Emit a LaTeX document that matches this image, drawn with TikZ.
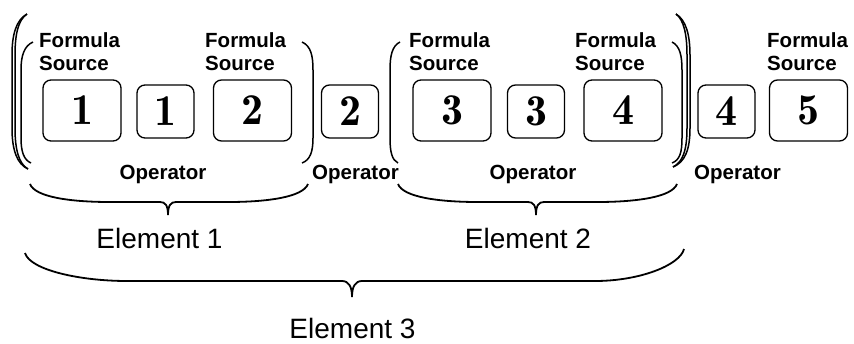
\documentclass[tikz,border=0pt]{standalone}
\usepackage{fontspec}
\newfontfamily\labfont{Liberation Sans}
\begin{document}
\begin{tikzpicture}[x=1pt,y=-1pt,
  box/.style={draw, line width=1.3pt, rounded corners=8pt, inner sep=0pt,
    font=\fontfamily{lmr}\fontseries{b}\fontsize{44}{44}\selectfont},
  bigbox/.style={box, minimum width=78pt, minimum height=61pt},
  smallbox/.style={box, minimum width=57pt, minimum height=53pt},
  fs/.style={font=\labfont\bfseries\fontsize{20.5}{23.5}\selectfont, align=left, anchor=north west, inner sep=0pt},
  op/.style={font=\labfont\bfseries\fontsize{20.5}{24}\selectfont, anchor=base, inner sep=0pt},
  el/.style={font=\labfont\fontsize{28}{32}\selectfont, anchor=base, inner sep=0pt},
  paren/.style={line width=1.5pt},
  brc/.style={line width=1.8pt}]
\useasboundingbox (0,0) rectangle (854,343);

% boxes
\node[bigbox]   (b1) at (82,110.5)  {1};
\node[smallbox] (s1) at (165.5,111.5) {1};
\node[bigbox]   (b2) at (252.5,110.5) {2};
\node[smallbox] (s2) at (350,111.5) {2};
\node[bigbox]   (b3) at (452,110.5) {3};
\node[smallbox] (s3) at (536,111.5) {3};
\node[bigbox]   (b4) at (623,110.5) {4};
\node[smallbox] (s4) at (726.5,111.5) {4};
\node[bigbox]   (b5) at (808.5,110.5) {5};

% formula source labels
\node[fs] (f1) at (39,32.3)  {Formula\\Source};
\node[fs] (f2) at (205,32.3) {Formula\\Source};
\node[fs] (f3) at (409,32.3) {Formula\\Source};
\node[fs] (f4) at (575,32.3) {Formula\\Source};
\node[fs] (f5) at (767,32.3) {Formula\\Source};

% operator labels
\node[op] (o1) at (163,179.5)   {Operator};
\node[op] (o2) at (355.5,179.5) {Operator};
\node[op] (o3) at (533,179.5)   {Operator};
\node[op] (o4) at (737.5,179.5) {Operator};

% element labels
\node[el] (e1) at (159.5,248) {Element 1};
\node[el] (e2) at (528,248)   {Element 2};
\node[el] (e3) at (352.5,338.5) {Element 3};

% inner parentheses
\draw[paren] (33,42) .. controls (24,46) and (21,56) .. (21,70) -- (21,138) .. controls (21,152) and (24,160) .. (31,163);
\draw[paren] (302,42) .. controls (311,46) and (313,56) .. (313,70) -- (313,138) .. controls (313,152) and (310,160) .. (302,163);
\draw[paren] (400,42) .. controls (392,46) and (390,56) .. (390,70) -- (390,138) .. controls (390,152) and (392,160) .. (398,163);
\draw[paren] (672,42) .. controls (680,46) and (682,56) .. (682,70) -- (682,138) .. controls (682,152) and (680,160) .. (672,163);

% outer parentheses (double stroke)
\draw[paren] (27,14) .. controls (16,20) and (12,35) .. (12,55) -- (12,128) .. controls (12,150) and (17,164) .. (28,169);
\draw[paren] (27,14) .. controls (18,20) and (15,35) .. (15,55) -- (15,128) .. controls (15,150) and (19,164) .. (28,169);
\draw[paren] (676,14) .. controls (686,20) and (690,35) .. (690,55) -- (690,128) .. controls (690,150) and (685,162) .. (673,167);
\draw[paren] (676,14) .. controls (684,20) and (687,35) .. (687,55) -- (687,128) .. controls (687,150) and (683,162) .. (673,167);

% braces
\draw[brc] (30,184) .. controls (35,197) and (70,202) .. (110,202) -- (160,202)
  .. controls (165,202) and (168,205) .. (168,215)
  .. controls (168,205) and (171,202) .. (176,202) -- (228,202)
  .. controls (268,202) and (303,197) .. (308,184);
\draw[brc] (398,184) .. controls (403,197) and (438,202) .. (478,202) -- (528,202)
  .. controls (533,202) and (536,205) .. (536,215)
  .. controls (536,205) and (539,202) .. (544,202) -- (597,202)
  .. controls (637,202) and (672,197) .. (677,184);
\draw[brc] (25,253) .. controls (30,270) and (80,281) .. (127,281) -- (342,281)
  .. controls (349,281) and (352,287) .. (352,297)
  .. controls (352,287) and (355,281) .. (362,281) -- (595,281)
  .. controls (640,281) and (680,265) .. (684,249);
\end{tikzpicture}
\end{document}
